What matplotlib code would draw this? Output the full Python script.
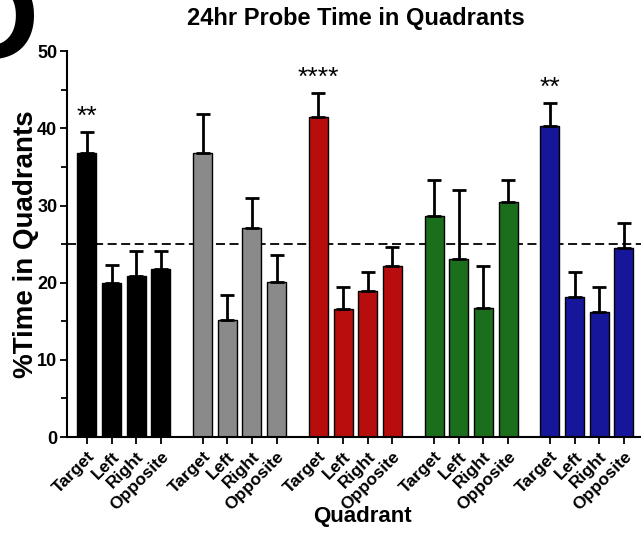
import matplotlib.pyplot as plt
import numpy as np

plt.rcParams['font.family'] = ['Liberation Sans', 'DejaVu Sans']
plt.rcParams['font.weight'] = 'bold'

quadrants = ['Target', 'Left', 'Right', 'Opposite']
groupColors = ['#000000', '#8a8a8a', '#b80d0d', '#1b6e1b', '#16169a']

# mean % time per quadrant, one list per group
means = [
    [36.8, 20.0, 20.9, 21.8],
    [36.8, 15.2, 27.1, 20.1],
    [41.5, 16.6, 18.9, 22.2],
    [28.6, 23.1, 16.7, 30.4],
    [40.3, 18.1, 16.2, 24.5],
]
# upper error bar (SEM)
sems = [
    [2.7, 2.3, 3.2, 2.3],
    [5.0, 3.2, 3.9, 3.5],
    [3.1, 2.8, 2.5, 2.4],
    [4.7, 8.9, 5.5, 2.9],
    [3.0, 3.3, 3.2, 3.2],
]
stars = ['**', '', '****', '', '**']
chance = 25

fig = plt.figure(figsize=(6.41, 5.33), dpi=100)
ax = fig.add_axes([0.1045, 0.180, 0.8955, 0.724])

groupStep = 4.7
xticks = []
xlabels = []
for g in range(len(means)):
    x = g * groupStep + np.arange(4)
    ax.bar(x, means[g], width=0.77, color=groupColors[g], edgecolor='black', linewidth=1, zorder=2)
    ax.errorbar(x, means[g], yerr=[np.zeros(4), sems[g]], fmt='none', ecolor='black',
                elinewidth=2, capsize=5, capthick=2, zorder=3)
    if stars[g]:
        ax.text(x[0], means[g][0] + sems[g][0] + 2.0, stars[g], ha='center', va='center',
                fontsize=19, fontweight='normal')
    xticks.extend(x)
    xlabels.extend(quadrants)

ax.axhline(chance, color='black', linestyle=(0, (5, 2.5)), linewidth=1.3, zorder=1)

ax.set_xlim(-0.81, 4 * groupStep + 3.7)
ax.set_ylim(0, 50)
ax.set_yticks([0, 10, 20, 30, 40, 50])
ax.set_yticks([5, 15, 25, 35, 45], minor=True)
ax.set_xticks(xticks)
ax.set_xticklabels(xlabels, rotation=45, ha='right', rotation_mode='anchor', fontsize=12.5, fontweight='bold')
ax.tick_params(axis='y', labelsize=13, width=1.3, length=5, pad=2)
ax.tick_params(axis='y', which='minor', width=1.3, length=4)
ax.tick_params(axis='x', width=1.3, length=5)
for lbl in ax.get_yticklabels():
    lbl.set_fontweight('bold')
ax.spines['top'].set_visible(False)
ax.spines['right'].set_visible(False)
ax.spines['left'].set_linewidth(1.5)
ax.spines['bottom'].set_linewidth(1.5)

ax.set_ylabel('%Time in Quadrants', fontsize=20, fontweight='bold', labelpad=-1)
ax.set_xlabel('Quadrant', fontsize=16, fontweight='bold')
ax.xaxis.set_label_coords(0.515, -0.178)
fig.text(0.555, 0.966, '24hr Probe Time in Quadrants', ha='center', va='center', fontsize=17, fontweight='bold')
fig.text(-0.08, 0.89, 'D', ha='left', va='baseline', fontsize=90, fontweight='bold')

fig.savefig('out.png', dpi=100)
